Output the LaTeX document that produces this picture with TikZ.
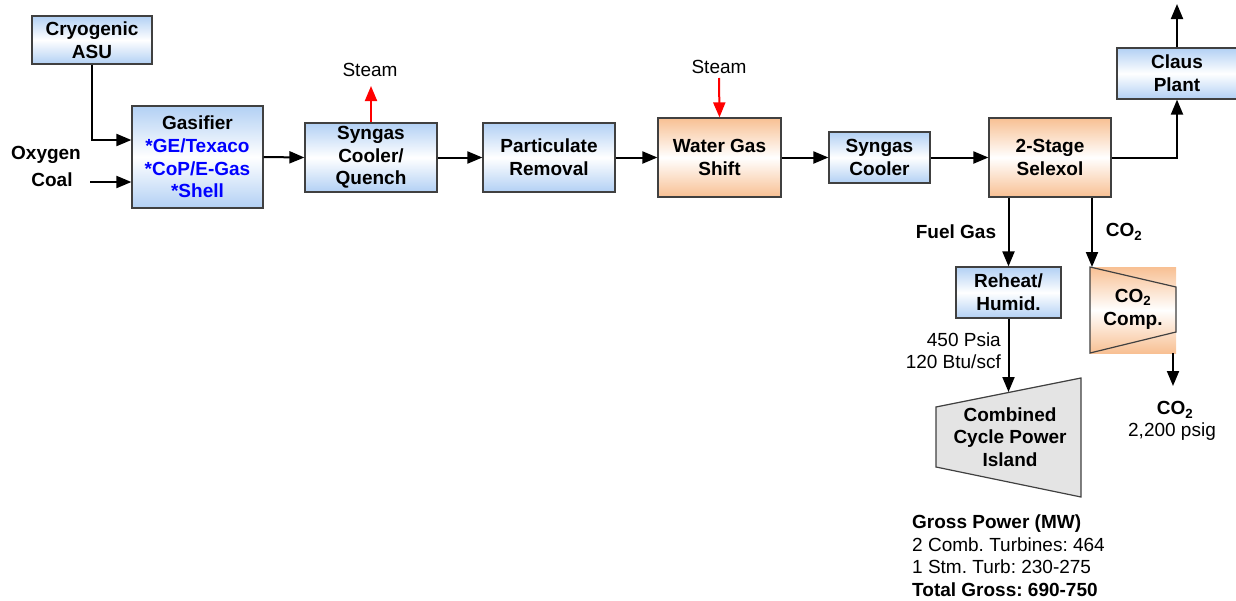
\documentclass[tikz,border=0pt]{standalone}
\usepackage{fontspec}
\setmainfont{Liberation Sans}
\usetikzlibrary{arrows.meta}
\definecolor{bluebox}{HTML}{B2D0F4}
\definecolor{orangebox}{HTML}{F8C093}
\definecolor{edgegray}{HTML}{404040}
\definecolor{grayfill}{HTML}{E4E4E4}
\definecolor{textblue}{HTML}{0000FF}
\frenchspacing
\begin{document}
\begin{tikzpicture}[x=1pt,y=-1pt,
  boxbase/.style={draw=edgegray, line width=1.2pt, align=center, inner sep=0pt,
    font=\bfseries\fontsize{19}{22.7}\selectfont},
  bluebox/.style={boxbase, top color=bluebox, bottom color=bluebox, middle color=white},
  orangebox/.style={boxbase, top color=orangebox, bottom color=orangebox, middle color=white},
  flow/.style={line width=2pt, -{Triangle[length=15pt,width=12pt]}},
  steamflow/.style={flow, draw=red},
  lbl/.style={font=\fontsize{19}{22.6}\selectfont, inner sep=0pt, align=center},
  blbl/.style={font=\bfseries\fontsize{19}{22.7}\selectfont, inner sep=0pt, align=center}]
\useasboundingbox (0,0) rectangle (1236,600);

% boxes
\node[bluebox, minimum width=120pt, minimum height=48pt] (asu) at (92,40) {Cryogenic\\ASU};
\node[bluebox, minimum width=131pt, minimum height=102pt] (gas) at (197.5,157)
  {Gasifier\\\textcolor{textblue}{*GE/Texaco}\\\textcolor{textblue}{*CoP/E-Gas}\\\textcolor{textblue}{*Shell}};
\node[bluebox, minimum width=132pt, minimum height=69pt] (sc) at (371,157.5) {Syngas\\Cooler/\\Quench};
\node[bluebox, minimum width=132pt, minimum height=69pt] (pr) at (549,157.5) {Particulate\\Removal};
\node[orangebox, minimum width=123pt, minimum height=79pt] (wgs) at (719.5,157.5) {Water Gas\\Shift};
\node[bluebox, minimum width=101pt, minimum height=51pt] (sc2) at (879.5,157.5) {Syngas\\Cooler};
\node[orangebox, minimum width=122pt, minimum height=79pt] (sel) at (1050,157.5) {2-Stage\\Selexol};
\node[bluebox, minimum width=120pt, minimum height=51pt] (claus) at (1177,73.5) {Claus\\Plant};
\node[bluebox, minimum width=105pt, minimum height=51pt] (reheat) at (1008.5,292.5) {Reheat/\\Humid.};

% CO2 compressor
\shade[top color=orangebox, bottom color=orangebox, middle color=white] (1090,267) rectangle (1176,353);
\draw[draw=edgegray, line width=1.2pt] (1090,267) -- (1176,287) -- (1176,332) -- (1090,353) -- cycle;
\node[blbl] (comp) at (1133,309) {CO\textsubscript{2}\\Comp.};
\coordinate (compin) at (1092,267);
\coordinate (compout) at (1173,353);
\coordinate (co2out) at (1173,386);

% combined cycle
\draw[draw=edgegray, line width=1.2pt, fill=grayfill] (936,407) -- (1081,378) -- (1081,497) -- (936,467) -- cycle;
\node[blbl] (ccp) at (1010,437) {Combined\\Cycle Power\\Island};
\coordinate (ccpin) at (1008.5,392);

% labels
\node[blbl] (oxy) at (46,155) {Oxygen};
\node[blbl] (coal) at (52,180) {Coal};
\coordinate (coalstart) at (90,182);
\node[lbl] (steam1) at (370,70) {Steam};
\coordinate (steam1end) at (371,86);
\node[lbl] (steam2) at (719,67) {Steam};
\coordinate (steam2start) at (719,78);
\coordinate (clausout) at (1177,4);
\node[blbl] (fuel) at (956,232) {Fuel Gas};
\node[blbl] (co2a) at (1124,232) {CO\textsubscript{2}};
\node[lbl, anchor=east] (psia) at (1001,340) {450 Psia};
\node[lbl, anchor=east] (btu) at (1001,362) {120 Btu/scf};
\node[blbl] (co2b) at (1175,410) {CO\textsubscript{2}};
\node[lbl] (psig) at (1172,432) {2,200 psig};
\node[lbl, align=left, anchor=north west] (gross) at (912,514.5)
  {\textbf{Gross Power (MW)}\\2 Comb. Turbines: 464\\1 Stm. Turb: 230-275\\\textbf{Total Gross: 690-750}};

% connectors
\draw[flow] (asu.south) |- ([yshift=17pt]gas.west);
\draw[flow] (coalstart) -- ([yshift=-25pt]gas.west);
\draw[flow] (gas.east) -- (sc.west);
\draw[steamflow] (sc.north) -- (steam1end);
\draw[flow] (sc.east) -- (pr.west);
\draw[flow] (pr.east) -- (wgs.west);
\draw[steamflow] (steam2start) -- (wgs.north);
\draw[flow] (wgs.east) -- (sc2.west);
\draw[flow] (sc2.east) -- (sel.west);
\draw[flow] (sel.east) -| (claus.south);
\draw[flow] (claus.north) -- (clausout);
\draw[flow] (reheat.north |- sel.south) -- (reheat.north);
\draw[flow] (compin |- sel.south) -- (compin);
\draw[flow] (compout) -- (co2out);
\draw[flow] (reheat.south) -- (ccpin);
\end{tikzpicture}
\end{document}
